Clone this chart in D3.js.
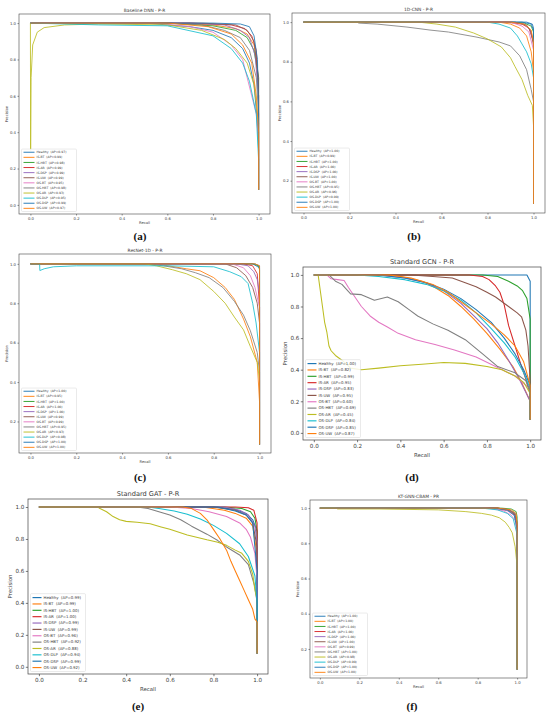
<!DOCTYPE html>
<html lang="en">
<head>
<meta charset="utf-8">
<title>P-R curves</title>
<style>
  body { margin: 0; background: #fff; }
  svg text { font-family: "DejaVu Sans", sans-serif; fill: #3a3a3a; }
  .tag { font-family: "Liberation Serif", serif; font-weight: bold; fill: #111; }
</style>
</head>
<body>
<svg id="chart" width="550" height="714"></svg>
<script src="https://d3js.org/d3.v7.min.js"></script>
<script>
// class names and matplotlib tab10 colours (wrap after 10)
const classNames = ["Healthy", "IS-BT", "IS-HBT", "IS-AR", "IS-DSP", "IS-UW",
    "OS-BT", "OS-HBT", "OS-AR", "OS-DLP", "OS-DSP", "OS-UW"]
const classColors = classNames.map((d, i) => d3.schemeCategory10[i % 10])

const xTicks = [0, 0.2, 0.4, 0.6, 0.8, 1.0]
const yTicksFull = [0, 0.2, 0.4, 0.6, 0.8, 1.0]
const yTicksUpper = [0.2, 0.4, 0.6, 0.8, 1.0]

// ---- (a) Baseline DNN ----
const apDnn = [0.97, 0.99, 0.98, 0.99, 0.99, 0.99, 0.95, 0.98, 0.93, 0.95, 0.99, 0.97]
const curvesDnn = [
    [[0,1],[0.5,1],[0.7,0.98],[0.8,0.96],[0.88,0.92],[0.93,0.86],[0.96,0.78],[0.98,0.66],[0.995,0.45],[1,0.3],[1,0.083]],
    [[0,1],[0.6,1],[0.8,0.99],[0.9,0.97],[0.95,0.94],[0.98,0.88],[0.99,0.8],[1,0.6],[1,0.083]],
    [[0,1],[0.6,1],[0.8,0.985],[0.9,0.96],[0.95,0.92],[0.98,0.85],[1,0.7],[1,0.083]],
    [[0,1],[0.7,1],[0.88,0.99],[0.94,0.97],[0.97,0.93],[0.99,0.85],[1,0.6],[1,0.083]],
    [[0,1],[0.7,1],[0.85,0.99],[0.92,0.96],[0.96,0.92],[0.985,0.82],[1,0.6],[1,0.083]],
    [[0,1],[0.75,1],[0.9,0.99],[0.95,0.96],[0.98,0.9],[1,0.7],[1,0.083]],
    [[0,1],[0.55,1],[0.7,0.98],[0.8,0.95],[0.88,0.88],[0.93,0.8],[0.95,0.7],[0.97,0.6],[0.99,0.5],[1,0.35],[1,0.083]],
    [[0,1],[0.6,1],[0.75,0.99],[0.85,0.96],[0.92,0.92],[0.96,0.85],[0.99,0.7],[1,0.5],[1,0.083]],
    [[0,1],[0.001,0.3],[0.003,0.7],[0.01,0.88],[0.03,0.95],[0.06,0.975],[0.15,0.99],[0.3,0.995],[0.6,0.99],[0.75,0.96],[0.85,0.91],[0.9,0.86],[0.95,0.78],[0.98,0.66],[1,0.45],[1,0.083]],
    [[0,1],[0.3,0.99],[0.6,0.985],[0.8,0.93],[0.88,0.86],[0.93,0.78],[0.96,0.68],[0.99,0.5],[1,0.25],[1,0.083]],
    [[0,1],[0.8,1],[0.92,0.995],[0.96,0.98],[0.98,0.93],[0.995,0.8],[1,0.5],[1,0.083]],
    [[0,1],[0.6,1],[0.78,0.98],[0.88,0.94],[0.93,0.88],[0.97,0.78],[0.99,0.6],[1,0.4],[1,0.083]]
]

// ---- (b) 1D-CNN ----
const apCnn = [1.00, 0.99, 1.00, 1.00, 1.00, 1.00, 1.00, 0.95, 0.96, 0.99, 1.00, 1.00]
const curvesCnn = [
    [[0,1],[0.97,1],[0.995,0.99],[1,0.97],[1,0.083]],
    [[0,1],[0.85,1],[0.9,0.99],[0.94,0.97],[0.97,0.93],[0.99,0.85],[1,0.75],[1,0.083]],
    [[0,1],[0.9,1],[0.96,0.995],[0.99,0.98],[1,0.95],[1,0.083]],
    [[0,1],[0.88,1],[0.95,0.99],[0.98,0.97],[1,0.9],[1,0.083]],
    [[0,1],[0.9,1],[0.96,0.99],[0.985,0.96],[1,0.9],[1,0.083]],
    [[0,1],[0.92,1],[0.97,0.985],[0.99,0.95],[1,0.88],[1,0.083]],
    [[0,1],[0.9,1],[0.95,0.98],[0.98,0.95],[1,0.86],[1,0.083]],
    [[0,1],[0.235,1],[0.24,0.995],[0.32,0.99],[0.45,0.975],[0.55,0.96],[0.63,0.95],[0.75,0.925],[0.85,0.9],[0.9,0.88],[0.94,0.83],[0.97,0.76],[0.99,0.66],[1,0.6],[1,0.083]],
    [[0,1],[0.5,1],[0.58,0.99],[0.66,0.975],[0.74,0.945],[0.8,0.915],[0.86,0.875],[0.9,0.82],[0.92,0.775],[0.95,0.71],[0.975,0.63],[0.995,0.58],[1,0.48],[1,0.083]],
    [[0,1],[0.8,1],[0.85,0.99],[0.9,0.97],[0.93,0.93],[0.95,0.89],[0.97,0.85],[0.99,0.79],[1,0.72],[1,0.083]],
    [[0,1],[0.95,1],[0.99,0.99],[1,0.96],[1,0.083]],
    [[0,1],[0.9,1],[0.96,0.99],[0.99,0.96],[1,0.9],[1,0.083]]
]

// ---- (c) ResNet-1D ----
const apResnet = [1.00, 0.95, 1.00, 1.00, 1.00, 0.99, 0.99, 0.95, 0.93, 0.98, 1.00, 1.00]
const curvesResnet = [
    [[0,1],[0.98,1],[1,0.99],[1,0.083]],
    [[0,1],[0.55,1],[0.6,0.99],[0.68,0.975],[0.74,0.965],[0.8,0.93],[0.85,0.88],[0.89,0.82],[0.93,0.72],[0.96,0.63],[0.99,0.5],[1,0.3],[1,0.083]],
    [[0,1],[0.97,1],[0.995,0.99],[1,0.97],[1,0.083]],
    [[0,1],[0.93,1],[0.97,0.99],[0.99,0.95],[1,0.78],[1,0.083]],
    [[0,1],[0.9,1],[0.95,0.99],[0.975,0.96],[0.99,0.92],[1,0.85],[1,0.083]],
    [[0,1],[0.85,1],[0.9,0.98],[0.94,0.94],[0.97,0.88],[0.99,0.8],[1,0.7],[1,0.083]],
    [[0,1],[0.88,1],[0.93,0.98],[0.96,0.94],[0.98,0.88],[1,0.78],[1,0.083]],
    [[0,1],[0.5,1],[0.58,0.99],[0.66,0.975],[0.72,0.955],[0.78,0.93],[0.84,0.88],[0.89,0.81],[0.93,0.74],[0.96,0.66],[0.99,0.55],[1,0.45],[1,0.083]],
    [[0,1],[0.5,1],[0.55,0.99],[0.62,0.97],[0.68,0.95],[0.74,0.92],[0.8,0.86],[0.85,0.8],[0.89,0.73],[0.93,0.665],[0.96,0.58],[0.99,0.5],[1,0.41],[1,0.083]],
    [[0,1],[0.04,1],[0.041,0.966],[0.06,0.975],[0.1,0.985],[0.2,0.99],[0.6,0.99],[0.8,0.985],[0.87,0.96],[0.92,0.935],[0.95,0.9],[0.97,0.8],[0.985,0.7],[1,0.55],[1,0.083]],
    [[0,1],[0.97,1],[1,0.98],[1,0.083]],
    [[0,1],[0.98,1],[1,0.99],[1,0.083]]
]

// ---- (d) Standard GCN ----
const apGcn = [1.00, 0.82, 0.99, 0.95, 0.83, 0.95, 0.60, 0.69, 0.45, 0.84, 0.85, 0.87]
const curvesGcn = [
    [[0,1],[0.985,1],[1,0.96],[1,0.083]],
    [[0,1],[0.3,1],[0.4,0.99],[0.5,0.96],[0.56,0.92],[0.62,0.87],[0.68,0.8],[0.74,0.72],[0.8,0.63],[0.86,0.53],[0.92,0.42],[0.96,0.32],[1,0.2],[1,0.083]],
    [[0,1],[0.78,1],[0.85,0.99],[0.9,0.96],[0.94,0.93],[0.965,0.9],[0.985,0.85],[1,0.72],[1,0.083]],
    [[0,1],[0.72,1],[0.78,0.99],[0.81,0.97],[0.84,0.93],[0.86,0.89],[0.88,0.81],[0.9,0.68],[0.93,0.55],[0.96,0.42],[0.99,0.3],[1,0.25],[1,0.083]],
    [[0,1],[0.3,1],[0.42,0.98],[0.52,0.95],[0.6,0.9],[0.68,0.82],[0.74,0.74],[0.8,0.66],[0.85,0.57],[0.9,0.46],[0.95,0.34],[1,0.2],[1,0.083]],
    [[0,1],[0.45,1],[0.55,0.99],[0.64,0.98],[0.7,0.95],[0.75,0.925],[0.8,0.89],[0.84,0.86],[0.9,0.8],[0.94,0.76],[0.96,0.735],[0.98,0.65],[0.99,0.55],[1,0.33],[1,0.083]],
    [[0,1],[0.06,1],[0.08,0.975],[0.11,0.97],[0.14,0.965],[0.16,0.92],[0.19,0.86],[0.22,0.8],[0.26,0.74],[0.3,0.7],[0.34,0.67],[0.39,0.63],[0.47,0.59],[0.56,0.56],[0.65,0.525],[0.75,0.48],[0.84,0.42],[0.93,0.36],[0.99,0.29],[1,0.25],[1,0.083]],
    [[0,1],[0.07,1],[0.1,0.96],[0.13,0.94],[0.17,0.88],[0.22,0.875],[0.28,0.84],[0.34,0.86],[0.39,0.83],[0.44,0.78],[0.48,0.74],[0.55,0.69],[0.62,0.65],[0.7,0.59],[0.78,0.5],[0.85,0.42],[0.93,0.38],[0.98,0.33],[1,0.25],[1,0.083]],
    [[0,1],[0.02,1],[0.03,0.9],[0.04,0.8],[0.05,0.7],[0.06,0.64],[0.07,0.55],[0.08,0.52],[0.1,0.49],[0.13,0.46],[0.17,0.41],[0.22,0.4],[0.3,0.41],[0.4,0.425],[0.5,0.435],[0.6,0.445],[0.7,0.44],[0.8,0.42],[0.87,0.4],[0.93,0.36],[0.97,0.32],[1,0.25],[1,0.083]],
    [[0,1],[0.2,1],[0.3,0.99],[0.42,0.97],[0.52,0.94],[0.6,0.9],[0.68,0.84],[0.75,0.76],[0.82,0.66],[0.88,0.57],[0.93,0.48],[0.97,0.38],[1,0.28],[1,0.083]],
    [[0,1],[0.3,1],[0.42,0.98],[0.52,0.95],[0.6,0.91],[0.68,0.85],[0.75,0.78],[0.82,0.7],[0.88,0.6],[0.93,0.5],[0.97,0.4],[1,0.3],[1,0.083]],
    [[0,1],[0.35,1],[0.45,0.98],[0.55,0.94],[0.62,0.89],[0.68,0.83],[0.75,0.76],[0.82,0.69],[0.88,0.62],[0.93,0.55],[0.97,0.45],[1,0.3],[1,0.083]]
]

// ---- (e) Standard GAT ----
const apGat = [0.99, 0.99, 1.00, 1.00, 0.99, 0.99, 0.96, 0.92, 0.88, 0.94, 0.99, 0.92]
const curvesGat = [
    [[0,1],[0.8,1],[0.9,0.985],[0.95,0.96],[0.98,0.92],[1,0.85],[1,0.083]],
    [[0,1],[0.75,1],[0.85,0.98],[0.9,0.96],[0.95,0.93],[0.98,0.88],[1,0.7],[1,0.083]],
    [[0,1],[0.85,1],[0.93,0.99],[0.97,0.97],[0.99,0.93],[1,0.85],[1,0.083]],
    [[0,1],[0.9,1],[0.96,0.995],[0.985,0.98],[1,0.9],[1,0.083]],
    [[0,1],[0.85,1],[0.92,0.98],[0.96,0.95],[0.99,0.88],[1,0.78],[1,0.083]],
    [[0,1],[0.8,1],[0.9,0.98],[0.95,0.95],[0.98,0.9],[1,0.75],[1,0.083]],
    [[0,1],[0.6,1],[0.7,0.99],[0.78,0.97],[0.86,0.94],[0.92,0.9],[0.95,0.86],[0.97,0.81],[0.99,0.71],[1,0.55],[1,0.083]],
    [[0,1],[0.45,1],[0.5,0.99],[0.55,0.97],[0.6,0.95],[0.65,0.92],[0.7,0.88],[0.77,0.83],[0.82,0.79],[0.86,0.75],[0.92,0.7],[0.96,0.64],[0.99,0.5],[1,0.4],[1,0.083]],
    [[0,1],[0.27,1],[0.28,0.99],[0.31,0.97],[0.34,0.94],[0.37,0.92],[0.4,0.91],[0.45,0.905],[0.51,0.895],[0.56,0.875],[0.6,0.86],[0.68,0.825],[0.77,0.795],[0.82,0.78],[0.86,0.76],[0.9,0.73],[0.93,0.71],[0.96,0.66],[0.98,0.58],[0.99,0.48],[1,0.42],[1,0.083]],
    [[0,1],[0.5,1],[0.55,0.99],[0.62,0.975],[0.68,0.955],[0.74,0.925],[0.8,0.885],[0.86,0.835],[0.92,0.77],[0.96,0.69],[0.99,0.57],[1,0.4],[1,0.083]],
    [[0,1],[0.82,1],[0.9,0.975],[0.95,0.95],[0.98,0.9],[1,0.6],[1,0.3],[1,0.083]],
    [[0,1],[0.66,1],[0.7,0.99],[0.74,0.96],[0.77,0.92],[0.8,0.86],[0.83,0.8],[0.86,0.73],[0.88,0.66],[0.9,0.6],[0.92,0.54],[0.94,0.48],[0.96,0.42],[0.98,0.36],[0.99,0.3],[1,0.28],[1,0.083]]
]

// ---- (f) KT-GNN-CBAM ----
const apKt = [1.00, 1.00, 1.00, 1.00, 1.00, 1.00, 0.99, 1.00, 0.98, 0.99, 1.00, 1.00]
const curvesKt = [
    [[0,1],[0.9,1],[0.96,0.99],[0.99,0.97],[1,0.9],[1,0.083]],
    [[0,1],[0.9,1],[0.96,0.985],[0.99,0.96],[1,0.92],[1,0.083]],
    [[0,1],[0.92,1],[0.97,0.995],[0.995,0.98],[1,0.95],[1,0.083]],
    [[0,1],[0.9,1],[0.96,0.99],[0.99,0.96],[1,0.9],[1,0.083]],
    [[0,1],[0.88,1],[0.95,0.985],[0.985,0.96],[1,0.9],[1,0.083]],
    [[0,1],[0.9,1],[0.96,0.99],[0.99,0.965],[1,0.9],[1,0.083]],
    [[0,1],[0.85,1],[0.93,0.985],[0.97,0.96],[0.99,0.93],[1,0.85],[1,0.083]],
    [[0,1],[0.9,1],[0.96,0.99],[0.99,0.97],[1,0.92],[1,0.083]],
    [[0,1],[0.08,1],[0.09,0.995],[0.3,0.995],[0.6,0.99],[0.74,0.98],[0.82,0.97],[0.87,0.96],[0.91,0.945],[0.94,0.92],[0.96,0.89],[0.975,0.86],[0.99,0.78],[1,0.67],[1,0.083]],
    [[0,1],[0.82,1],[0.9,0.99],[0.95,0.97],[0.98,0.94],[1,0.85],[1,0.5],[1,0.083]],
    [[0,1],[0.88,1],[0.95,0.99],[0.985,0.96],[1,0.88],[1,0.083]],
    [[0,1],[0.9,1],[0.97,0.99],[0.995,0.97],[1,0.9],[1,0.083]]
]

// text / line sizes for the two kinds of sub-figure
const smallStyle = { tick: 3.8, title: 4.4, label: 3.7, legend: 3.1, row: 5.1, lw: 0.85,
    tickLen: 1.5, legW: 55, sample: 11, frame: 0.6, titleGap: 2.5, labelGap: 9.5, yLabelGap: 11.5 }
const largeStyle = { tick: 5.6, title: 6.6, label: 5.4, legend: 3.9, row: 6.36, lw: 1.05,
    tickLen: 2.2, legW: 55, sample: 9, frame: 0.7, titleGap: 3, labelGap: 16.5, yLabelGap: 16 }

const panels = [
    { title: "Baseline DNN - P-R", tag: "(a)", ap: apDnn, curves: curvesDnn, yDomain: [-0.05, 1.05], yTicks: yTicksFull,
      box: { x: 19, y: 14, w: 251, h: 200 }, tagPos: [140, 240], style: smallStyle },
    { title: "1D-CNN - P-R", tag: "(b)", ap: apCnn, curves: curvesCnn, yDomain: [0.037, 1.046], yTicks: yTicksUpper,
      box: { x: 292, y: 13, w: 253, h: 200 }, tagPos: [414, 240], style: smallStyle },
    { title: "ResNet-1D - P-R", tag: "(c)", ap: apResnet, curves: curvesResnet, yDomain: [0.04, 1.05], yTicks: yTicksUpper,
      box: { x: 19, y: 254, w: 252, h: 199 }, tagPos: [140, 481], style: smallStyle },
    { title: "Standard GCN - P-R", tag: "(d)", ap: apGcn, curves: curvesGcn, yDomain: [-0.045, 1.05], yTicks: yTicksFull,
      box: { x: 303, y: 267, w: 238, h: 173 }, tagPos: [412, 481], style: largeStyle },
    { title: "Standard GAT - P-R", tag: "(e)", ap: apGat, curves: curvesGat, yDomain: [-0.045, 1.05], yTicks: yTicksFull,
      box: { x: 28, y: 499, w: 240, h: 175 }, tagPos: [138, 710], style: largeStyle },
    { title: "KT-GNN-CBAM - PR", tag: "(f)", ap: apKt, curves: curvesKt, yDomain: [0.035, 1.046], yTicks: yTicksUpper,
      box: { x: 310, y: 500, w: 217, h: 178 }, tagPos: [412, 710], style: smallStyle }
]

const svg = d3.select("#chart")
const fmt = d3.format(".1f")

panels.forEach((p, pi) => {
    const s = p.style
    const b = p.box
    const x = d3.scaleLinear().domain([-0.05, 1.05]).range([b.x, b.x + b.w])
    const y = d3.scaleLinear().domain(p.yDomain).range([b.y + b.h, b.y])
    const g = svg.append("g")

    g.append("clipPath").attr("id", "clip" + pi)
        .append("rect").attr("x", b.x).attr("y", b.y).attr("width", b.w).attr("height", b.h)

    // axes
    const xAxis = d3.axisBottom(x).tickValues(xTicks).tickFormat(fmt).tickSize(s.tickLen).tickPadding(1.5)
    const yAxis = d3.axisLeft(y).tickValues(p.yTicks).tickFormat(fmt).tickSize(s.tickLen).tickPadding(1.5)
    g.append("g").attr("transform", `translate(0,${b.y + b.h})`).call(xAxis)
    g.append("g").attr("transform", `translate(${b.x},0)`).call(yAxis)
    g.selectAll(".domain").remove()
    g.selectAll(".tick line").attr("stroke", "#444").attr("stroke-width", s.frame)
    g.selectAll(".tick text").attr("font-size", s.tick).attr("font-family", "DejaVu Sans")

    // curves
    const line = d3.line().x(d => x(d[0])).y(d => y(d[1]))
    g.append("g").attr("clip-path", `url(#clip${pi})`)
        .selectAll("path").data(p.curves).join("path")
        .attr("d", line)
        .attr("fill", "none")
        .attr("stroke", (d, i) => classColors[i])
        .attr("stroke-width", s.lw)
        .attr("stroke-linejoin", "round")

    // frame
    g.append("rect").attr("x", b.x).attr("y", b.y).attr("width", b.w).attr("height", b.h)
        .attr("fill", "none").attr("stroke", "#444").attr("stroke-width", s.frame)

    // title and axis labels
    g.append("text").attr("x", b.x + b.w / 2).attr("y", b.y - s.titleGap)
        .attr("text-anchor", "middle").attr("font-size", s.title).text(p.title)
    g.append("text").attr("x", b.x + b.w / 2).attr("y", b.y + b.h + s.labelGap)
        .attr("text-anchor", "middle").attr("font-size", s.label).text("Recall")
    g.append("text")
        .attr("transform", `translate(${b.x - s.yLabelGap},${b.y + b.h / 2}) rotate(-90)`)
        .attr("text-anchor", "middle").attr("font-size", s.label).text("Precision")

    // legend (lower left)
    const pad = s.row * 0.62
    const legH = 11 * s.row + 2 * pad
    const lx = b.x + 2.5
    const ly = b.y + b.h - 2.5 - legH
    const leg = g.append("g")
    leg.append("rect").attr("x", lx).attr("y", ly).attr("width", s.legW).attr("height", legH)
        .attr("rx", 1).attr("fill", "#fff").attr("fill-opacity", 0.85)
        .attr("stroke", "#d5d5d5").attr("stroke-width", 0.5)
    const rows = leg.selectAll("g.row").data(classNames).join("g")
        .attr("transform", (d, i) => `translate(${lx + 2},${ly + pad + i * s.row})`)
    rows.append("line").attr("x1", 0).attr("x2", s.sample)
        .attr("stroke", (d, i) => classColors[i]).attr("stroke-width", s.lw * 1.1)
    rows.append("text").attr("x", s.sample + 2).attr("dy", "0.35em")
        .attr("font-size", s.legend)
        .text((d, i) => `${d}  (AP=${p.ap[i].toFixed(2)})`)
        .style("white-space", "pre")

    // sub-figure tag
    svg.append("text").attr("class", "tag").attr("x", p.tagPos[0]).attr("y", p.tagPos[1])
        .attr("text-anchor", "middle").attr("font-size", 11).text(p.tag)
})
</script>
</body>
</html>
